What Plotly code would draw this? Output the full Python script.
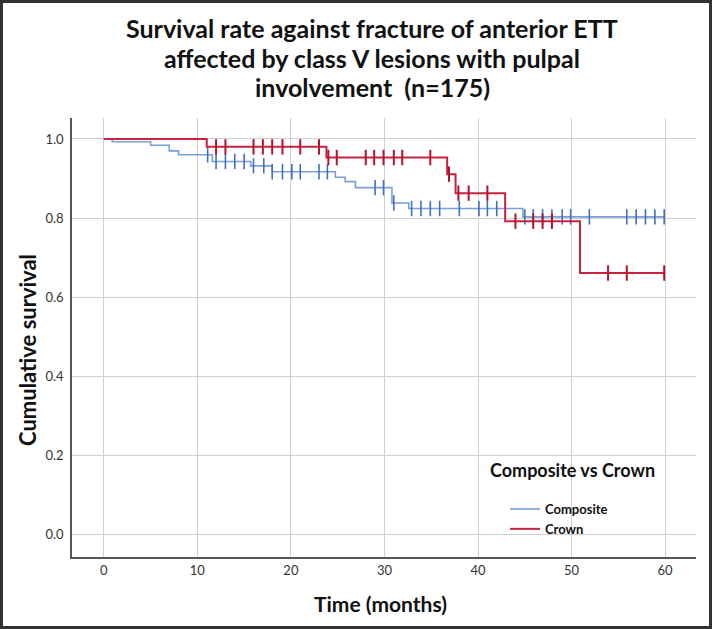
import numpy as np
import plotly.graph_objects as go

# ---- data ----
comp_times = [0, 0.9, 5.0, 7.0, 8.0, 11.6, 15.7, 18.0, 24.75, 25.8, 26.9, 30.8, 32.6, 44.8]
comp_surv = [1.0, 0.993, 0.984, 0.970, 0.960, 0.943, 0.932, 0.917, 0.903, 0.892, 0.877, 0.838, 0.824, 0.803]
comp_censor = [11.1, 12.0, 13.0, 14.0, 15.0, 16.0, 17.1, 18.0, 19.1, 20.1, 21.0, 23.0, 23.9,
               29.0, 29.9, 31.0, 32.9, 33.9, 34.9, 35.9, 38.0, 40.1, 41.0, 42.0,
               45.0, 45.9, 46.9, 47.9, 49.0, 49.9, 51.9, 55.9, 56.9, 57.9, 58.9, 59.9]

crown_times = [0, 11.0, 23.8, 36.7, 37.6, 42.9, 50.9]
crown_surv = [1.0, 0.980, 0.953, 0.911, 0.863, 0.792, 0.661]
crown_censor = [12.0, 13.0, 16.0, 17.0, 18.0, 19.1, 21.0, 23.0,
                24.0, 24.9, 28.0, 28.9, 29.9, 31.0, 31.9, 34.9,
                36.9, 37.9, 39.0, 41.0, 44.0, 45.9, 46.9, 47.9,
                53.9, 55.9, 59.9]

end_time = 60
x_ticks = [0, 10, 20, 30, 40, 50, 60]
y_ticks = [0.0, 0.2, 0.4, 0.6, 0.8, 1.0]
group_names = ["Composite", "Crown"]
line_colors = ["#7a9fd6", "#c8223f"]
mark_colors = ["#3f6fc0", "#b5112f"]
title_lines = ["Survival rate against fracture of anterior ETT",
               "affected by class V lesions with pulpal",
               "involvement  (n=175)"]

FONT = "Lato"


def step_level(times, surv, t):
    idx = np.searchsorted(np.array(times), t, side="right") - 1
    return surv[idx]


fig = go.Figure()
for name, times, surv, cens, lc, mc, lw, mw in [
    (group_names[0], comp_times, comp_surv, comp_censor, line_colors[0], mark_colors[0], 1.6, 1.6),
    (group_names[1], crown_times, crown_surv, crown_censor, line_colors[1], mark_colors[1], 2.0, 2.0),
]:
    xs = list(times) + [end_time]
    ys = list(surv) + [surv[-1]]
    fig.add_trace(go.Scatter(x=xs, y=ys, mode="lines", name=name,
                             line=dict(color=lc, width=lw, shape="hv"),
                             showlegend=True))
    fig.add_trace(go.Scatter(x=cens, y=[step_level(times, surv, c) for c in cens],
                             mode="markers", showlegend=False, hoverinfo="skip",
                             marker=dict(symbol="line-ns-open", size=11, color=mc,
                                         line=dict(color=mc, width=mw))))

L, R, T, B = 72, 16, 118, 72
W, H = 712, 629
pw, ph = W - L - R, H - T - B


def px_to_paper_x(px):
    return (px - L) / pw


def px_to_paper_y(py):
    return (H - B - py) / ph


annotations = []
for line, yc in zip(title_lines, [28, 58, 87]):
    annotations.append(dict(text=f"<b>{line}</b>", x=px_to_paper_x(372), y=px_to_paper_y(yc),
                            xref="paper", yref="paper", xanchor="center", yanchor="middle",
                            showarrow=False, font=dict(family=FONT, size=25, color="#111")))
annotations.append(dict(text="<b>Composite vs Crown</b>",
                        x=px_to_paper_x(488), y=px_to_paper_y(470), xref="paper", yref="paper",
                        xanchor="left", yanchor="middle", showarrow=False,
                        font=dict(family=FONT, size=18, color="#111")))
annotations.append(dict(text="<b>Cumulative survival</b>", textangle=-90,
                        x=px_to_paper_x(27), y=px_to_paper_y(350), xref="paper", yref="paper",
                        xanchor="center", yanchor="middle", showarrow=False,
                        font=dict(family=FONT, size=22, color="#111")))
annotations.append(dict(text="<b>Time (months)</b>",
                        x=px_to_paper_x(380), y=px_to_paper_y(603), xref="paper", yref="paper",
                        xanchor="center", yanchor="middle", showarrow=False,
                        font=dict(family=FONT, size=21, color="#111")))

fig.update_layout(
    width=W, height=H,
    margin=dict(l=L, r=R, t=T, b=B),
    paper_bgcolor="white", plot_bgcolor="white",
    font=dict(family=FONT, color="#222"),
    showlegend=True,
    legend=dict(x=px_to_paper_x(505), y=px_to_paper_y(494), xanchor="left", yanchor="top",
                bgcolor="rgba(0,0,0,0)", font=dict(family=FONT, size=13, color="#111", weight="bold"),
                itemwidth=30, tracegroupgap=0),
    xaxis=dict(range=[-3.4, 63.3], tickvals=x_ticks, ticktext=[str(v) for v in x_ticks],
               showgrid=True, gridcolor="#cfcfcf", gridwidth=1,
               showline=True, linecolor="#555", linewidth=1.5, zeroline=False,
               ticks="outside", ticklen=1, tickcolor="rgba(0,0,0,0)",
               tickfont=dict(family=FONT, size=13, color="#333")),
    yaxis=dict(range=[-0.057, 1.053], tickvals=y_ticks, ticktext=[f"{v:.1f}" for v in y_ticks],
               showgrid=True, gridcolor="#cfcfcf", gridwidth=1,
               showline=True, linecolor="#555", linewidth=1.5, zeroline=False,
               ticks="outside", ticklen=4, tickcolor="rgba(0,0,0,0)",
               tickfont=dict(family=FONT, size=13, color="#333")),
    annotations=annotations,
    shapes=[
        dict(type="rect", xref="paper", yref="paper",
             x0=px_to_paper_x(1.5), x1=px_to_paper_x(W - 1.5),
             y0=px_to_paper_y(H - 1.5), y1=px_to_paper_y(1.5),
             line=dict(color="#333", width=3), fillcolor="rgba(0,0,0,0)", layer="above"),
    ],
)

fig.write_html("out.html", config={"displayModeBar": False},
               post_script="document.body.style.margin='0px';document.body.style.overflow='hidden';")
